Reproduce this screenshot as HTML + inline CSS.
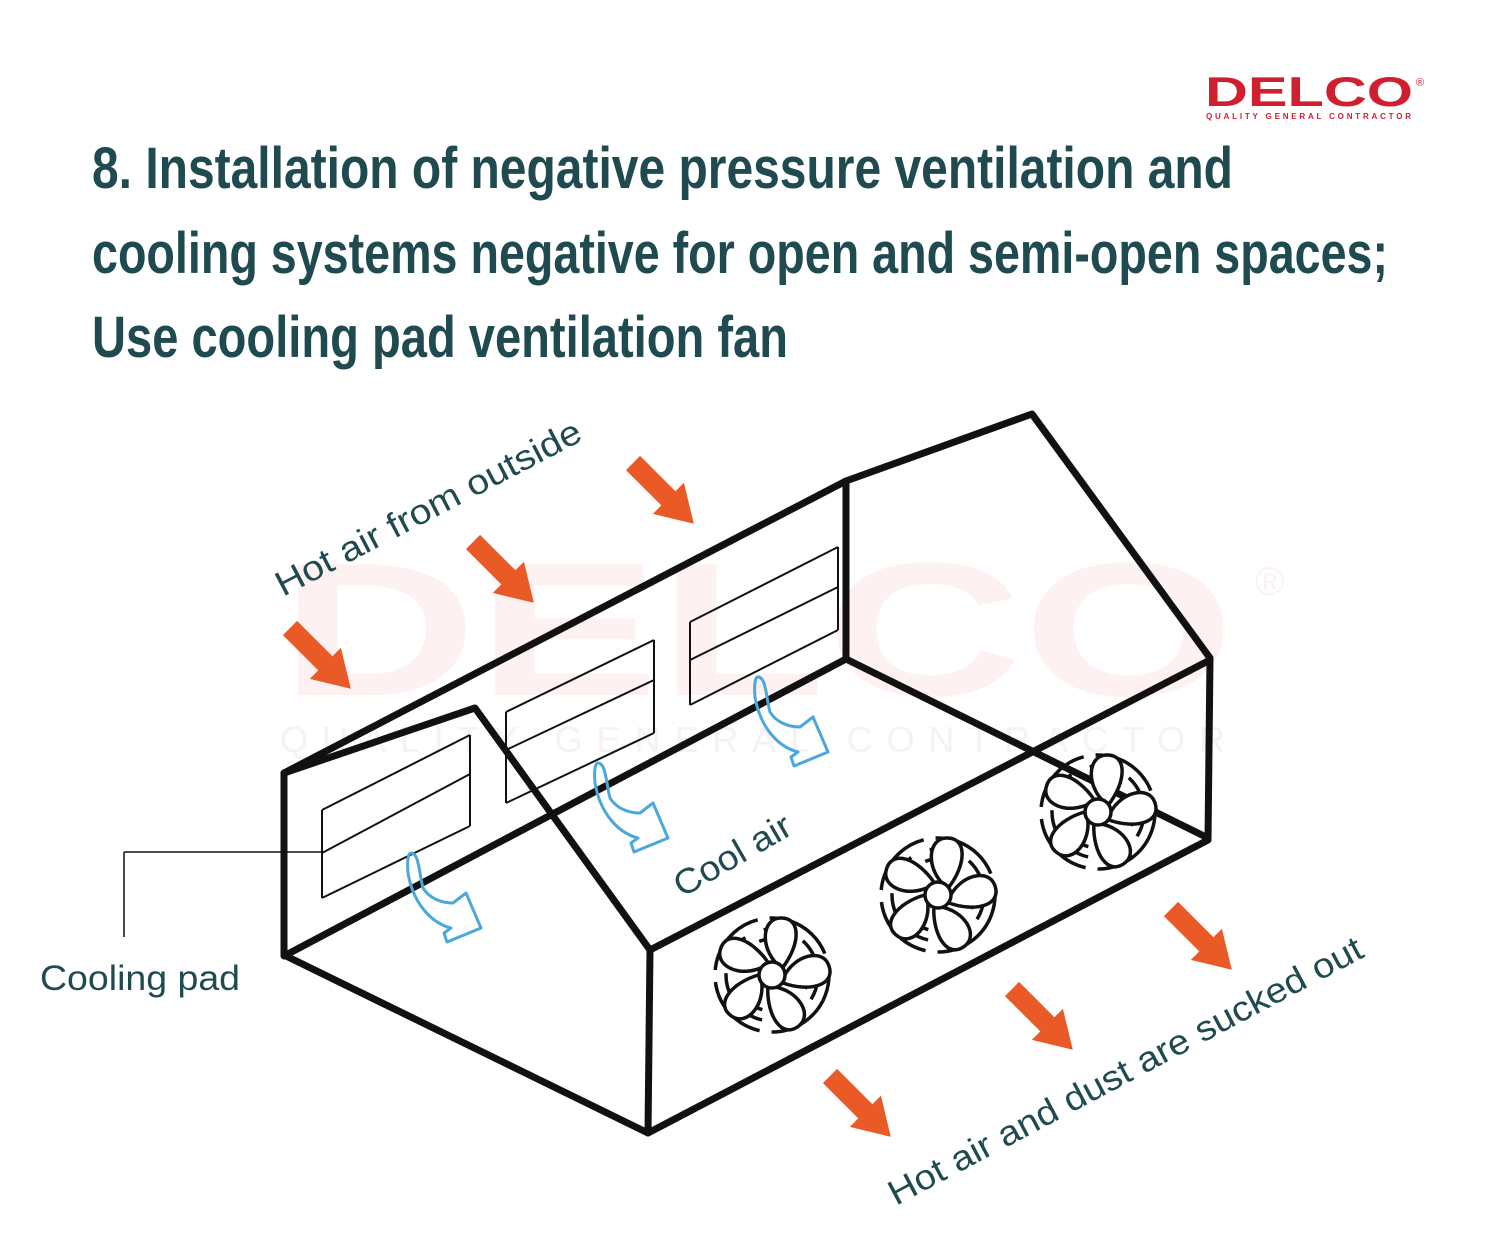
<!DOCTYPE html>
<html><head><meta charset="utf-8"><style>
html,body{margin:0;padding:0;background:#fff;}
svg{display:block;}
</style></head><body>
<svg width="1500" height="1257" viewBox="0 0 1500 1257" xmlns="http://www.w3.org/2000/svg">
<rect width="1500" height="1257" fill="#fff"/>
<!-- watermark -->
<text x="280" y="695" font-family="Liberation Sans, sans-serif" font-weight="bold" font-size="190" fill="#fdf1f1" textLength="955" lengthAdjust="spacingAndGlyphs">DELCO</text>
<text x="1255" y="595" font-family="Liberation Sans, sans-serif" font-size="40" fill="#fdf1f1">®</text>
<text x="280" y="752" font-family="Liberation Sans, sans-serif" font-size="36" fill="#f8f1f1" textLength="945" lengthAdjust="spacing">QUALITY GENERAL CONTRACTOR</text>
<!-- logo -->
<text x="1205" y="106" font-family="Liberation Sans, sans-serif" font-weight="bold" font-size="42" fill="#d0202f" textLength="208" lengthAdjust="spacingAndGlyphs">DELCO</text>
<text x="1416" y="86" font-family="Liberation Sans, sans-serif" font-size="11" fill="#d0202f">®</text>
<text x="1206" y="119" font-family="Liberation Sans, sans-serif" font-weight="bold" font-size="8" fill="#d0202f" textLength="205" lengthAdjust="spacing">QUALITY GENERAL CONTRACTOR</text>
<!-- title -->
<g font-family="Liberation Sans Narrow, Liberation Sans, sans-serif" font-weight="bold" font-size="58" fill="#1e4a50">
<text x="92" y="188" textLength="1141" lengthAdjust="spacingAndGlyphs">8. Installation of negative pressure ventilation and</text>
<text x="92" y="273" textLength="1296" lengthAdjust="spacingAndGlyphs">cooling systems negative for open and semi-open spaces;</text>
<text x="92" y="357" textLength="696" lengthAdjust="spacingAndGlyphs">Use cooling pad ventilation fan</text>
</g>
<!-- pads -->
<g stroke="#111" stroke-width="2" fill="none">
<path d="M322,810 L470,735 M322,853 L470,774 M322,898 L470,826 M322,810 V898 M470,735 V826"/>
<path d="M506,712 L654,640 M506,750 L654,680 M506,803 L654,733 M506,712 V803 M654,640 V733"/>
<path d="M690,622 L838,547 M690,660 L838,587 M690,705 L838,630 M690,622 V705 M838,547 V630"/>
<path d="M124,852 H322 M124,852 V937" stroke-width="1.5"/>
</g>
<!-- building -->
<g stroke="#111" stroke-width="7" fill="none" stroke-linejoin="round" stroke-linecap="round">
<path d="M284,773 L846,481 L1032,414 L1210,658 L1208,840 L648,1133 L284,955 Z"/>
<path d="M284,773 L475,708 L650,950 L648,1133"/>
<path d="M650,950 L1210,660"/>
<path d="M846,481 V659 L1208,838"/>
<path d="M846,659 L284,956"/>
</g>
<!-- blue arrows -->
<g fill="none" stroke="#4aa8dc" stroke-width="3" stroke-linejoin="round">
<path transform="translate(411,853)" d="M0,0 C8,0 8,20 12,35 C18,45 30,50 42,50 L55,40 L70,75 L36,89 L33,80 L40,75 C20,70 2,50 -3,20 C-4,8 -3,0 0,0 Z"/>
<path transform="translate(598,763)" d="M0,0 C8,0 8,20 12,35 C18,45 30,50 42,50 L55,40 L70,75 L36,89 L33,80 L40,75 C20,70 2,50 -3,20 C-4,8 -3,0 0,0 Z"/>
<path transform="translate(758,677)" d="M0,0 C8,0 8,20 12,35 C18,45 30,50 42,50 L55,40 L70,75 L36,89 L33,80 L40,75 C20,70 2,50 -3,20 C-4,8 -3,0 0,0 Z"/>
</g>
<defs>
<g id="oa"><path d="M-10,0 L10,0 L10,50 L22,50 L0,86 L-22,50 L-10,50 Z" fill="#ea5a26"/></g>
<g id="fan" fill="#fff" stroke="#111" stroke-width="3.5">
<g fill="none">
<circle r="57" stroke-dasharray="70 12" transform="rotate(20)"/>
<circle r="46" stroke-dasharray="22 20" transform="rotate(50)"/>
<circle r="36" stroke-dasharray="8 22" transform="rotate(10)"/>
</g>
<g id="bl"><path d="M5,-11 C-12,-28 -10,-56 8,-57 C30,-58 28,-30 11,-8 Z"/></g>
<use href="#bl" transform="rotate(72)"/><use href="#bl" transform="rotate(144)"/><use href="#bl" transform="rotate(216)"/><use href="#bl" transform="rotate(288)"/>
<circle r="13"/>
</g>
</defs>
<use href="#oa" transform="translate(290,628) rotate(-45)"/>
<use href="#oa" transform="translate(473,542) rotate(-45)"/>
<use href="#oa" transform="translate(633,463) rotate(-45)"/>
<use href="#oa" transform="translate(1171,909) rotate(-45)"/>
<use href="#oa" transform="translate(1012,989) rotate(-45)"/>
<use href="#oa" transform="translate(830,1076) rotate(-45)"/>
<!-- fans -->
<use href="#fan" transform="translate(772,975)"/>
<use href="#fan" transform="translate(938,895)"/>
<use href="#fan" transform="translate(1098,812)"/>
<!-- labels -->
<g font-family="Liberation Sans, sans-serif" font-size="35" fill="#1e4a50">
<text x="40" y="990" textLength="200" lengthAdjust="spacingAndGlyphs">Cooling pad</text>
<text transform="translate(283,597) rotate(-27.6)" textLength="340" lengthAdjust="spacingAndGlyphs">Hot air from outside</text>
<text transform="translate(682,898) rotate(-30)" textLength="130" lengthAdjust="spacingAndGlyphs">Cool air</text>
<text transform="translate(896,1206) rotate(-28)" textLength="532" lengthAdjust="spacingAndGlyphs">Hot air and dust are sucked out</text>
</g>
</svg>
</body></html>
